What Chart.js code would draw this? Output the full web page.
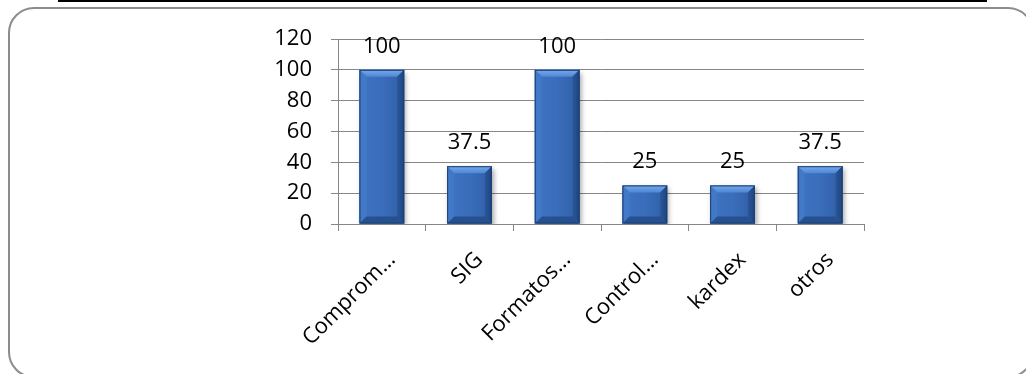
<!DOCTYPE html>
<html>
<head>
<meta charset="utf-8">
<script src="https://cdn.jsdelivr.net/npm/chart.js@4/dist/chart.umd.min.js"></script>
<style>
  html, body { margin: 0; padding: 0; background: #ffffff; }
  body { width: 1026px; height: 374px; position: relative; overflow: hidden; }
  .rule { position: absolute; left: 58px; top: 0; width: 929px; height: 2px; background: #000; }
  .frame {
    position: absolute; left: 8px; top: 7px; width: 1026px; height: 371px;
    border: 2px solid #8c8c8c; border-radius: 26px; box-sizing: border-box;
  }
  #wrap { position: absolute; left: 0; top: 0; width: 1026px; height: 374px; }
</style>
</head>
<body>
<div class="rule"></div>
<div class="frame"></div>
<div id="wrap"><canvas id="c" width="1026" height="374"></canvas></div>
<script>
// Categories and values of the bar chart
const categories = ['Comprom…', 'SIG', 'Formatos…', 'Control…', 'kardex', 'otros'];
const values = [100, 37.5, 100, 25, 25, 37.5];
const yMin = 0;
const yMax = 120;
const yStep = 20;

const FONT = '"Open Sans", "Liberation Sans", sans-serif';
const GRID = '#868686';

// Soft drop shadow under the bars
const barShadow = {
  id: 'barShadow',
  beforeDatasetDraw(chart) {
    const ctx = chart.ctx;
    ctx.save();
    ctx.shadowColor = 'rgba(0,0,0,0.35)';
    ctx.shadowBlur = 5;
    ctx.shadowOffsetX = 2;
    ctx.shadowOffsetY = 3;
  },
  afterDatasetDraw(chart) {
    chart.ctx.restore();
  }
};

// Bevelled edges painted over each bar element
const barBevel = {
  id: 'barBevel',
  afterDatasetsDraw(chart) {
    const ctx = chart.ctx;
    const meta = chart.getDatasetMeta(0);
    meta.data.forEach((bar) => {
      const w = bar.width;
      const l = bar.x - w / 2, r = bar.x + w / 2;
      const t = Math.min(bar.y, bar.base), b = Math.max(bar.y, bar.base);
      const e = 7;
      ctx.save();
      // face
      const fg = ctx.createLinearGradient(l, 0, r, 0);
      fg.addColorStop(0, '#3e74c4');
      fg.addColorStop(0.5, '#3a6dba');
      fg.addColorStop(1, '#305ea7');
      ctx.fillStyle = fg;
      ctx.fillRect(l, t, w, b - t);
      const poly = (pts, fill) => {
        ctx.beginPath();
        ctx.moveTo(pts[0][0], pts[0][1]);
        for (let i = 1; i < pts.length; i++) ctx.lineTo(pts[i][0], pts[i][1]);
        ctx.closePath();
        ctx.fillStyle = fill;
        ctx.fill();
      };
      // top bevel
      const tg = ctx.createLinearGradient(0, t, 0, t + e);
      tg.addColorStop(0, '#74aaee');
      tg.addColorStop(1, '#4f87d2');
      poly([[l, t], [r, t], [r - e, t + e], [l + e, t + e]], tg);
      // left bevel
      poly([[l, t], [l + e, t + e], [l + e, b - e], [l, b]], '#4279c6');
      // right bevel
      const rg = ctx.createLinearGradient(r - e, 0, r, 0);
      rg.addColorStop(0, '#2b5698');
      rg.addColorStop(1, '#1d447f');
      poly([[r, t], [r, b], [r - e, b - e], [r - e, t + e]], rg);
      // bottom bevel
      poly([[l, b], [r, b], [r - e, b - e], [l + e, b - e]], '#27508f');
      // outline
      ctx.strokeStyle = '#1d3f73';
      ctx.lineWidth = 1;
      ctx.strokeRect(l + 0.5, t + 0.5, w - 1, b - t - 1);
      ctx.restore();
    });
  }
};

// Value labels above the bars
const valueLabels = {
  id: 'valueLabels',
  afterDatasetsDraw(chart) {
    const ctx = chart.ctx;
    const meta = chart.getDatasetMeta(0);
    ctx.save();
    ctx.font = '22px ' + FONT;
    ctx.fillStyle = '#000';
    ctx.textAlign = 'center';
    ctx.textBaseline = 'alphabetic';
    meta.data.forEach((bar, i) => {
      ctx.fillText(String(values[i]), bar.x, bar.y - 17);
    });
    ctx.restore();
  }
};

new Chart(document.getElementById('c'), {
  type: 'bar',
  data: {
    labels: categories,
    datasets: [{
      data: values,
      backgroundColor: '#3a6dba',
      borderWidth: 0,
      categoryPercentage: 1,
      barPercentage: 0.51
    }]
  },
  options: {
    responsive: false,
    animation: false,
    events: [],
    layout: { padding: { left: 0, right: 162, top: 39, bottom: 0 } },
    plugins: {
      legend: { display: false },
      tooltip: { enabled: false },
      title: { display: false }
    },
    scales: {
      x: {
        offset: true,
        grid: {
          offset: true,
          display: true,
          drawOnChartArea: false,
          drawTicks: true,
          tickLength: 7,
          color: GRID,
          lineWidth: 1
        },
        border: { display: true, color: GRID, width: 1 },
        ticks: {
          color: '#000',
          font: { family: FONT, size: 22 },
          minRotation: 45,
          maxRotation: 45,
          autoSkip: false,
          padding: 16,
          labelOffset: 10
        },
        afterFit(scale) { scale.height = 150; }
      },
      y: {
        min: yMin,
        max: yMax,
        grid: {
          color: GRID,
          lineWidth: 1,
          drawTicks: true,
          tickLength: 7
        },
        border: { display: true, color: GRID, width: 1 },
        ticks: {
          stepSize: yStep,
          color: '#000',
          font: { family: FONT, size: 22 },
          padding: 19
        },
        afterFit(scale) { scale.width = 338; }
      }
    }
  },
  plugins: [barShadow, barBevel, valueLabels]
});
</script>
</body>
</html>
